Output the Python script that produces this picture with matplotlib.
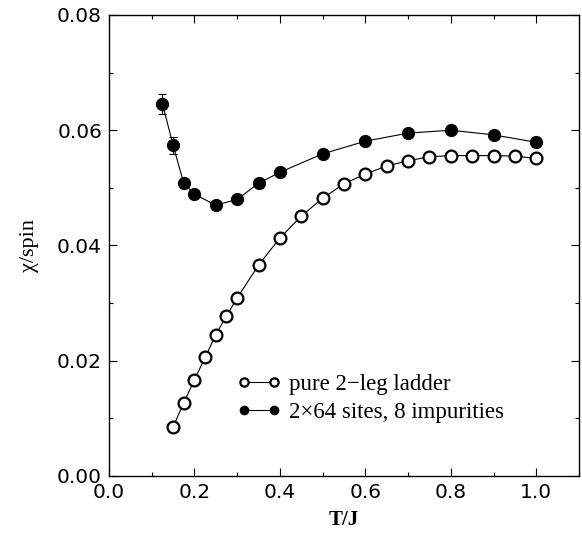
import matplotlib
matplotlib.use("Agg")
import matplotlib.pyplot as plt
from matplotlib.ticker import MultipleLocator, FormatStrFormatter

T_pure = [0.15, 0.175, 0.2, 0.225, 0.25, 0.275, 0.3, 0.35, 0.4, 0.45, 0.5, 0.55,
          0.6, 0.65, 0.7, 0.75, 0.8, 0.85, 0.9, 0.95, 1.0]
chi_pure = [0.0085, 0.0127, 0.0167, 0.0206, 0.0245, 0.0278, 0.0309, 0.0366, 0.0413,
            0.0451, 0.0482, 0.0507, 0.0524, 0.0538, 0.0547, 0.0554, 0.0556, 0.0556,
            0.0556, 0.0555, 0.0551]

T_imp = [0.125, 0.15, 0.175, 0.2, 0.25, 0.3, 0.35, 0.4, 0.5, 0.6, 0.7, 0.8, 0.9, 1.0]
chi_imp = [0.0646, 0.0574, 0.0508, 0.0489, 0.0470, 0.0480, 0.0508, 0.0527, 0.0559,
           0.0581, 0.0595, 0.0600, 0.0592, 0.0579]
err_imp = [0.0017, 0.0015, 0.0008, 0.0003, 0.0002, 0.0002, 0.0002, 0.0002, 0.0002,
           0.0002, 0.0002, 0.0002, 0.0002, 0.0002]

labels = ["pure 2\u2212leg ladder", "2\u00d764 sites, 8 impurities"]

serif = ['Liberation Serif', 'DejaVu Serif']

fig = plt.figure(figsize=(5.82, 5.35), dpi=100)
ax = fig.add_axes([0.1873, 0.1103, 0.8075, 0.8617])

ax.plot(T_pure, chi_pure, '-o', color='black', mfc='white', mec='black',
        ms=8.5, mew=1.6, lw=0.8, label=labels[0], zorder=3)
ax.errorbar(T_imp, chi_imp, yerr=err_imp, fmt='none', ecolor='black',
            elinewidth=0.8, capsize=3, capthick=0.8, zorder=2)
ax.plot(T_imp, chi_imp, '-o', color='black', mfc='black', mec='black',
        ms=8.5, lw=0.8, label=labels[1], zorder=3)

ax.set_xlim(0.0, 1.1)
ax.set_ylim(0.0, 0.08)
ax.xaxis.set_major_locator(MultipleLocator(0.2))
ax.xaxis.set_minor_locator(MultipleLocator(0.1))
ax.yaxis.set_major_locator(MultipleLocator(0.02))
ax.yaxis.set_minor_locator(MultipleLocator(0.01))
ax.xaxis.set_major_formatter(FormatStrFormatter('%.1f'))
ax.yaxis.set_major_formatter(FormatStrFormatter('%.2f'))
ax.tick_params(which='both', direction='in', top=True, right=True, width=0.8)
ax.tick_params(which='major', length=6, labelsize=14.5, pad=5)
ax.tick_params(which='minor', length=3)
for lab in ax.get_xticklabels() + ax.get_yticklabels():
    lab.set_family(['DejaVu Sans'])
for s in ax.spines.values():
    s.set_linewidth(1.0)

ax.set_xlabel('T/J', family=serif, fontsize=15, fontweight='bold', labelpad=6)
ax.set_ylabel('\u03c7/spin', family=serif, fontsize=16, labelpad=13)

leg = ax.legend(frameon=False, loc='lower left', bbox_to_anchor=(0.253, 0.096),
                prop={'family': serif, 'size': 16.5},
                markerscale=0.7, handlelength=1.9, handletextpad=0.35,
                labelspacing=0.3, numpoints=2, borderaxespad=0)

fig.savefig('out.png', dpi=100)
